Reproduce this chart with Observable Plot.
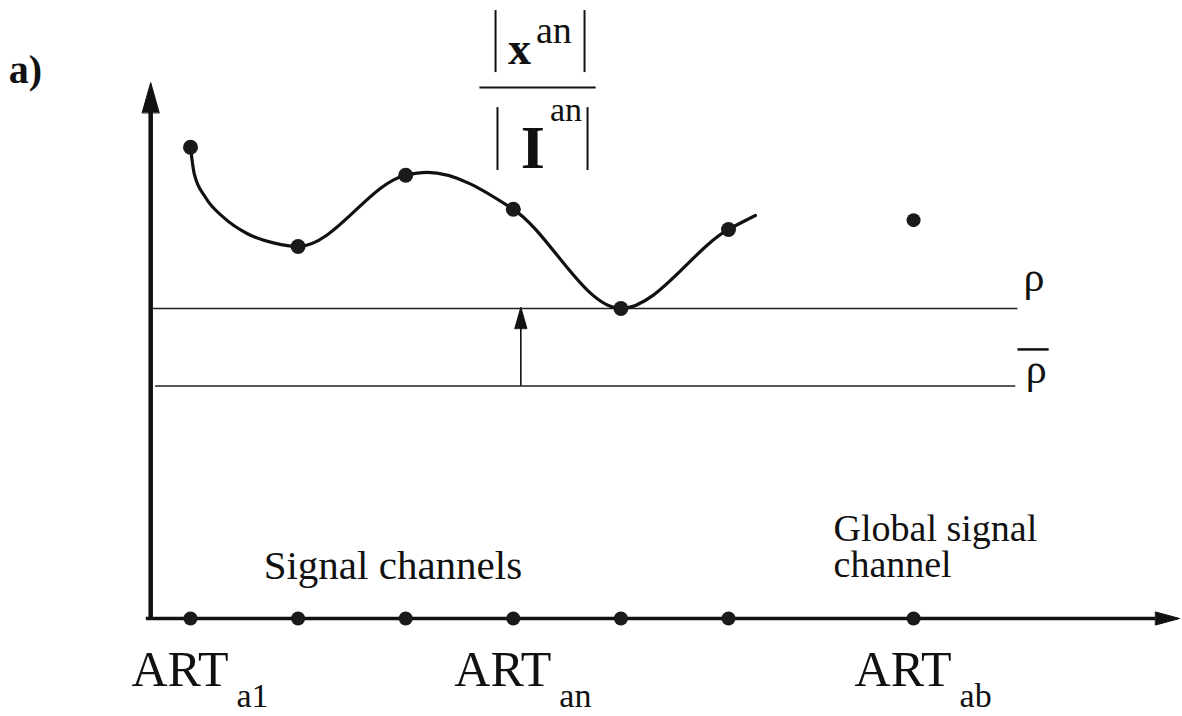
<!DOCTYPE html>
<html>
<head>
<meta charset="utf-8">
<script src="https://cdn.jsdelivr.net/npm/d3@7"></script>
<script src="https://cdn.jsdelivr.net/npm/@observablehq/plot@0.6"></script>
<style>
  html, body { margin: 0; padding: 0; background: #fff; }
  #chart svg { display: block; }
</style>
</head>
<body>
<div id="chart"></div>
<script>
// ---- data (channel index on x, ratio |x^an|/|I^an| on y) ----
const channels = [1, 2, 3, 4, 5, 6];
const ratios = [15.2, 12.0, 14.3, 13.2, 10.0, 12.55];
// curve trace (passes through the channel points)
const traceX = [1, 1.035, 1.14, 1.31, 1.525, 1.78, 2, 3, 3.2, 4, 5, 6, 6.25];
const traceY = [15.2, 14.34, 13.58, 12.93, 12.42, 12.11, 12.0, 14.3, 14.39, 13.2, 10.0, 12.55, 13.0];
const globalChannel = [7.72];
const globalRatio = [12.85];
const rho = 10;
const rhoBar = 7.5;
const artSubs = ["a1", "an", "ab"];
const artX = [1, 4, 7.72];

// ---- layout constants (data units) ----
const axisX0 = 0.63, axisXEnd = 9.97, axisYTop = 16.32;
const rhoLineEnd = 8.69, rhoBarStart = 0.675, rhoBarEnd = 8.67;
const arrowX = 4.07, arrowBase = 9.36;

const curve = traceX.map((x, i) => ({x, y: traceY[i]}));
const pts = channels.map((c, i) => ({x: c, y: ratios[i]}));
const glob = globalChannel.map((g, i) => ({x: g, y: globalRatio[i]}));
const axisDots = channels.concat(globalChannel).map(c => ({x: c, y: 0}));
const arts = artX.map((x, i) => ({x, sub: artSubs[i]}));

const tri = {draw(context, l, r) {
  context.moveTo(-r, 0); context.lineTo(0, -l); context.lineTo(r, 0); context.closePath();
}};

const serif = "Liberation Serif, Times New Roman, serif";

const chart = Plot.plot({
  width: 1182,
  height: 716,
  margin: 0,
  x: {domain: [1, 6], range: [190, 728], axis: null},
  y: {domain: [0, 10], range: [618, 308], axis: null},
  style: {background: "#fff", overflow: "visible", fontFamily: serif},
  marks: [
    // threshold lines
    Plot.ruleY([rho], {x1: axisX0, x2: rhoLineEnd, stroke: "#222", strokeWidth: 1.6}),
    Plot.ruleY([rhoBar], {x1: rhoBarStart, x2: rhoBarEnd, stroke: "#222", strokeWidth: 1.6}),
    // arrow from rho-bar up to rho
    Plot.ruleX([arrowX], {y1: rhoBar, y2: arrowBase, stroke: "#111", strokeWidth: 1.6}),
    Plot.vector([{x: arrowX, y: arrowBase}], {x: "x", y: "y", anchor: "start", length: 21, r: 6, rotate: 0, shape: tri, fill: "#111", stroke: "#111", strokeWidth: 1}),
    // axes
    Plot.ruleX([axisX0], {y1: -0.06, y2: axisYTop, stroke: "#111", strokeWidth: 4.5}),
    Plot.ruleY([0], {x1: axisX0 - 0.04, x2: axisXEnd, stroke: "#111", strokeWidth: 3.5}),
    Plot.vector([{x: axisX0, y: axisYTop}], {x: "x", y: "y", anchor: "start", length: 30, r: 8.5, rotate: 0, shape: tri, fill: "#111", stroke: "#111", strokeWidth: 1}),
    Plot.vector([{x: axisXEnd, y: 0}], {x: "x", y: "y", anchor: "start", length: 24, r: 6.5, rotate: 90, shape: tri, fill: "#111", stroke: "#111", strokeWidth: 1}),
    // curve and points
    Plot.line(curve, {x: "x", y: "y", curve: "monotone-x", stroke: "#111", strokeWidth: 3.2}),
    Plot.dot(pts, {x: "x", y: "y", r: 7.5, fill: "#1a1a1a", stroke: "none"}),
    Plot.dot(glob, {x: "x", y: "y", r: 7, fill: "#1a1a1a", stroke: "none"}),
    Plot.dot(axisDots, {x: "x", y: "y", r: 7, fill: "#1a1a1a", stroke: "none"}),
    // rho labels
    Plot.text([{x: 8.84, y: 10.58}], {x: "x", y: "y", text: () => "ρ", fontSize: 42, lineAnchor: "bottom", fill: "#111"}),
    Plot.text([{x: 8.86, y: 7.6}], {x: "x", y: "y", text: () => "ρ", fontSize: 42, lineAnchor: "bottom", fill: "#111"}),
    Plot.ruleY([8.68], {x1: 8.69, x2: 8.98, stroke: "#111", strokeWidth: 2.5}),
    // panel label
    Plot.text([{x: -0.69, y: 17.26}], {x: "x", y: "y", text: () => "a)", fontSize: 40, fontWeight: "bold", textAnchor: "start", lineAnchor: "bottom", fill: "#111"}),
    // fraction |x^an| / |I^an|
    Plot.ruleX([3.835, 4.662], {y1: 17.61, y2: 19.61, stroke: "#111", strokeWidth: 2}),
    Plot.ruleY([17.13], {x1: 3.69, x2: 4.77, stroke: "#111", strokeWidth: 2}),
    Plot.ruleX([3.853, 4.69], {y1: 14.45, y2: 16.48, stroke: "#111", strokeWidth: 2}),
    Plot.text([{x: 3.95, y: 17.9}], {x: "x", y: "y", text: () => "x", fontSize: 46, fontWeight: "bold", textAnchor: "start", lineAnchor: "bottom", fill: "#111"}),
    Plot.text([{x: 4.21, y: 18.55}], {x: "x", y: "y", text: () => "an", fontSize: 38, textAnchor: "start", lineAnchor: "bottom", fill: "#111"}),
    Plot.text([{x: 4.07, y: 14.52}], {x: "x", y: "y", text: () => "I", fontSize: 62, fontWeight: "bold", textAnchor: "start", lineAnchor: "bottom", fill: "#111"}),
    Plot.text([{x: 4.34, y: 16.06}], {x: "x", y: "y", text: () => "an", fontSize: 34, textAnchor: "start", lineAnchor: "bottom", fill: "#111"}),
    // captions
    Plot.text([{x: 1.68, y: 1.29}], {x: "x", y: "y", text: () => "Signal channels", fontSize: 41, textAnchor: "start", lineAnchor: "bottom", fill: "#111"}),
    Plot.text([{x: 6.976, y: 1.33}], {x: "x", y: "y", text: () => "Global signal\nchannel", fontSize: 38, lineHeight: 0.96, letterSpacing: 0.6, textAnchor: "start", lineAnchor: "bottom", fill: "#111"}),
    // ART labels
    Plot.text(arts, {x: "x", y: () => 0, dx: -59, dy: 67, text: () => "ART", fontSize: 50, textAnchor: "start", lineAnchor: "bottom", fill: "#111"}),
    Plot.text(arts, {x: "x", y: () => 0, dx: 46, dy: 88, text: "sub", fontSize: 34, textAnchor: "start", lineAnchor: "bottom", fill: "#111"})
  ]
});
document.getElementById("chart").append(chart);
</script>
</body>
</html>
